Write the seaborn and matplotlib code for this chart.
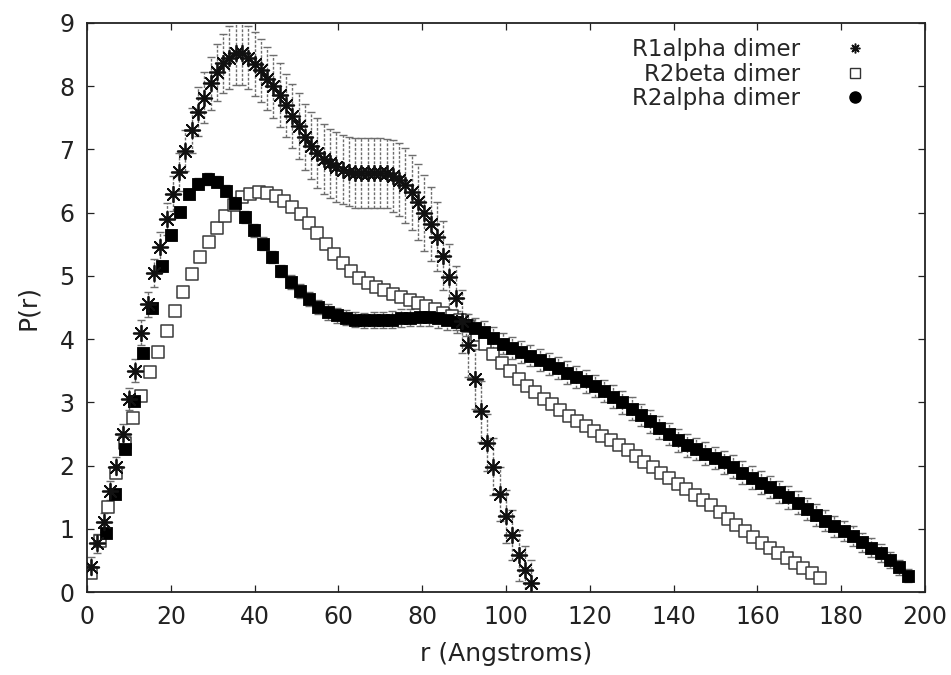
import matplotlib
matplotlib.use("Agg")
import matplotlib.pyplot as plt
from matplotlib.lines import Line2D
import seaborn as sns


# --- P(r) distance distributions ---
labels = ["R1alpha dimer", "R2beta dimer", "R2alpha dimer"]

r_r1alpha = [1.0, 2.5, 4.0, 5.5, 7.0, 8.5, 10.0, 11.5, 13.0, 14.5,
             16.0, 17.5, 19.0, 20.5, 22.0, 23.5, 25.0, 26.5, 28.0, 29.5,
             31.0, 32.5, 34.0, 35.5, 37.0, 38.5, 40.0, 41.5, 43.0, 44.5,
             46.0, 47.5, 49.0, 50.5, 52.0, 53.5, 55.0, 56.5, 58.0, 59.5,
             61.0, 62.5, 64.0, 65.5, 67.0, 68.5, 70.0, 71.5, 73.0, 74.5,
             76.0, 77.5, 79.0, 80.5, 82.0, 83.5, 85.0, 86.5, 88.0, 89.5,
             91.0, 92.5, 94.0, 95.5, 97.0, 98.5, 100.0, 101.5, 103.0, 104.5,
             106.0]
p_r1alpha = [0.40, 0.77, 1.10, 1.60, 1.98, 2.50, 3.05, 3.50, 4.10, 4.55,
             5.05, 5.45, 5.90, 6.30, 6.65, 6.98, 7.30, 7.60, 7.82, 8.05,
             8.22, 8.36, 8.45, 8.52, 8.52, 8.45, 8.35, 8.25, 8.12, 8.00,
             7.86, 7.70, 7.53, 7.37, 7.20, 7.06, 6.94, 6.85, 6.78, 6.72,
             6.68, 6.65, 6.63, 6.63, 6.63, 6.63, 6.63, 6.62, 6.58, 6.52,
             6.43, 6.32, 6.17, 6.00, 5.82, 5.62, 5.32, 4.98, 4.65, 4.28,
             3.90, 3.37, 2.86, 2.36, 1.98, 1.55, 1.20, 0.90, 0.58, 0.35,
             0.15]
err_r1alpha = [0.15, 0.15, 0.15, 0.15, 0.15, 0.15, 0.17, 0.18, 0.20, 0.20,
               0.22, 0.24, 0.26, 0.28, 0.30, 0.32, 0.35, 0.38, 0.40, 0.42,
               0.45, 0.47, 0.50, 0.50, 0.50, 0.50, 0.50, 0.50, 0.50, 0.50,
               0.50, 0.50, 0.50, 0.52, 0.52, 0.53, 0.55, 0.55, 0.55, 0.55,
               0.55, 0.55, 0.55, 0.55, 0.55, 0.55, 0.55, 0.55, 0.57, 0.58,
               0.60, 0.60, 0.60, 0.60, 0.58, 0.55, 0.55, 0.52, 0.50, 0.50,
               0.50, 0.48, 0.48, 0.45, 0.45, 0.42, 0.42, 0.40, 0.40, 0.38,
               0.35]

r_r2beta = [1, 3, 5, 7, 9, 11, 13, 15, 17, 19,
            21, 23, 25, 27, 29, 31, 33, 35, 37, 39,
            41, 43, 45, 47, 49, 51, 53, 55, 57, 59,
            61, 63, 65, 67, 69, 71, 73, 75, 77, 79,
            81, 83, 85, 87, 89, 91, 93, 95, 97, 99,
            101, 103, 105, 107, 109, 111, 113, 115, 117, 119,
            121, 123, 125, 127, 129, 131, 133, 135, 137, 139,
            141, 143, 145, 147, 149, 151, 153, 155, 157, 159,
            161, 163, 165, 167, 169, 171, 173, 175]
p_r2beta = [0.30, 0.80, 1.35, 1.88, 2.35, 2.75, 3.10, 3.48, 3.80, 4.13,
            4.44, 4.74, 5.03, 5.30, 5.53, 5.75, 5.95, 6.12, 6.24, 6.30,
            6.33, 6.31, 6.26, 6.19, 6.09, 5.98, 5.84, 5.68, 5.51, 5.35,
            5.20, 5.08, 4.97, 4.89, 4.83, 4.77, 4.72, 4.67, 4.62, 4.57,
            4.52, 4.47, 4.42, 4.37, 4.30, 4.20, 4.06, 3.92, 3.76, 3.62,
            3.49, 3.37, 3.26, 3.16, 3.06, 2.97, 2.88, 2.79, 2.71, 2.63,
            2.55, 2.47, 2.40, 2.32, 2.24, 2.15, 2.06, 1.97, 1.89, 1.80,
            1.71, 1.63, 1.54, 1.46, 1.38, 1.27, 1.16, 1.06, 0.97, 0.87,
            0.78, 0.70, 0.62, 0.54, 0.46, 0.38, 0.30, 0.22]

r_r2alpha = [4.6, 6.8, 9.0, 11.2, 13.4, 15.6, 17.8, 20.0, 22.2, 24.4,
             26.6, 28.8, 31.0, 33.2, 35.4, 37.6, 39.8, 42.0, 44.2, 46.4,
             48.6, 50.8, 53.0, 55.2, 57.4, 59.6, 61.8, 64.0, 66.2, 68.4,
             70.6, 72.8, 75.0, 77.2, 79.4, 81.6, 83.8, 86.0, 88.2, 90.4,
             92.6, 94.8, 97.0, 99.2, 101.4, 103.6, 105.8, 108.0, 110.2, 112.4,
             114.6, 116.8, 119.0, 121.2, 123.4, 125.6, 127.8, 130.0, 132.2, 134.4,
             136.6, 138.8, 141.0, 143.2, 145.4, 147.6, 149.8, 152.0, 154.2, 156.4,
             158.6, 160.8, 163.0, 165.2, 167.4, 169.6, 171.8, 174.0, 176.2, 178.4,
             180.6, 182.8, 185.0, 187.2, 189.4, 191.6, 193.8, 196.0]
p_r2alpha = [0.93, 1.55, 2.26, 3.02, 3.78, 4.50, 5.15, 5.64, 6.01, 6.30,
             6.46, 6.53, 6.49, 6.35, 6.15, 5.93, 5.72, 5.51, 5.30, 5.08,
             4.90, 4.76, 4.63, 4.51, 4.43, 4.38, 4.34, 4.31, 4.30, 4.30,
             4.30, 4.31, 4.33, 4.34, 4.35, 4.35, 4.34, 4.31, 4.27, 4.22,
             4.17, 4.11, 4.02, 3.93, 3.86, 3.80, 3.74, 3.67, 3.61, 3.54,
             3.47, 3.40, 3.33, 3.26, 3.18, 3.09, 3.00, 2.90, 2.80, 2.70,
             2.60, 2.50, 2.40, 2.32, 2.26, 2.19, 2.12, 2.05, 1.98, 1.89,
             1.81, 1.73, 1.66, 1.58, 1.50, 1.41, 1.31, 1.22, 1.13, 1.04,
             0.96, 0.88, 0.79, 0.70, 0.62, 0.51, 0.39, 0.26]
err_r2alpha = [0.06, 0.06, 0.06, 0.07, 0.07, 0.07, 0.08, 0.08, 0.08, 0.08,
               0.09, 0.09, 0.09, 0.09, 0.10, 0.10, 0.10, 0.10, 0.10, 0.10,
               0.11, 0.11, 0.11, 0.11, 0.12, 0.12, 0.12, 0.12, 0.12, 0.13,
               0.13, 0.13, 0.14, 0.14, 0.15, 0.15, 0.16, 0.16, 0.17, 0.17,
               0.17, 0.17, 0.17, 0.17, 0.17, 0.17, 0.17, 0.17, 0.17, 0.17,
               0.18, 0.18, 0.18, 0.18, 0.18, 0.18, 0.18, 0.18, 0.18, 0.18,
               0.18, 0.18, 0.18, 0.18, 0.18, 0.18, 0.18, 0.18, 0.18, 0.18,
               0.18, 0.18, 0.18, 0.18, 0.18, 0.18, 0.17, 0.17, 0.17, 0.17,
               0.16, 0.16, 0.15, 0.15, 0.14, 0.13, 0.12, 0.10]


sns.set_theme(style="ticks")
plt.rcParams['font.family'] = ['DejaVu Sans']

fig = plt.figure(figsize=(9.51, 6.75), dpi=100)
ax = fig.add_axes([87 / 951, 1 - 592 / 675, (925 - 87) / 951, (592 - 23) / 675])
ax.set_facecolor('white')

# dotted gray error bars, gnuplot style
err_kw = dict(fmt='none', ecolor='#6e6e6e', elinewidth=1.0, capsize=3, capthick=1.0)
eb1 = ax.errorbar(r_r1alpha, p_r1alpha, yerr=err_r1alpha, zorder=1, **err_kw)
eb1[2][0].set_linestyle((0, (2, 1.2)))
eb3 = ax.errorbar(r_r2alpha, p_r2alpha, yerr=err_r2alpha, zorder=1, **err_kw)
eb3[2][0].set_linestyle((0, (2, 1.2)))

sns.scatterplot(x=r_r2beta, y=p_r2beta, marker='s', s=70, facecolor='white',
                edgecolor='#3a3a3a', linewidth=1.1, ax=ax, zorder=2)
sns.scatterplot(x=r_r2alpha, y=p_r2alpha, marker='s', s=72, color='black',
                edgecolor='black', linewidth=0.6, ax=ax, zorder=3)
sns.scatterplot(x=r_r1alpha, y=p_r1alpha, marker=(8, 2, 0), s=125, color='#111111',
                linewidth=1.3, ax=ax, zorder=4)

ax.set_xlim(0, 200)
ax.set_ylim(0, 9)
ax.set_xticks(range(0, 201, 20))
ax.set_yticks(range(0, 10))
ax.tick_params(direction='in', top=True, right=True, length=5, width=0.9,
               labelsize=17, pad=9, colors='#222222')
for sp in ax.spines.values():
    sp.set_linewidth(1.3)
    sp.set_color('#222222')

ax.set_xlabel('r (Angstroms)', fontsize=18, color='#222222', labelpad=10)
ax.set_ylabel('P(r)', fontsize=18, color='#222222', labelpad=14)

handles = [
    Line2D([], [], ls='none', marker=(8, 2, 0), ms=7, mec='#111111', mew=1.1),
    Line2D([], [], ls='none', marker='s', ms=6.5, mfc='white', mec='#333333', mew=1.0),
    Line2D([], [], ls='none', marker='o', ms=8, mfc='black', mec='black'),
]
ax.legend(handles, labels, loc='upper right', bbox_to_anchor=(0.927, 0.974),
          frameon=False, markerfirst=False, fontsize=16.5, handlelength=0.8,
          handletextpad=2.0, labelspacing=0.08, borderpad=0, borderaxespad=0)

fig.savefig('out.png', dpi=100)
